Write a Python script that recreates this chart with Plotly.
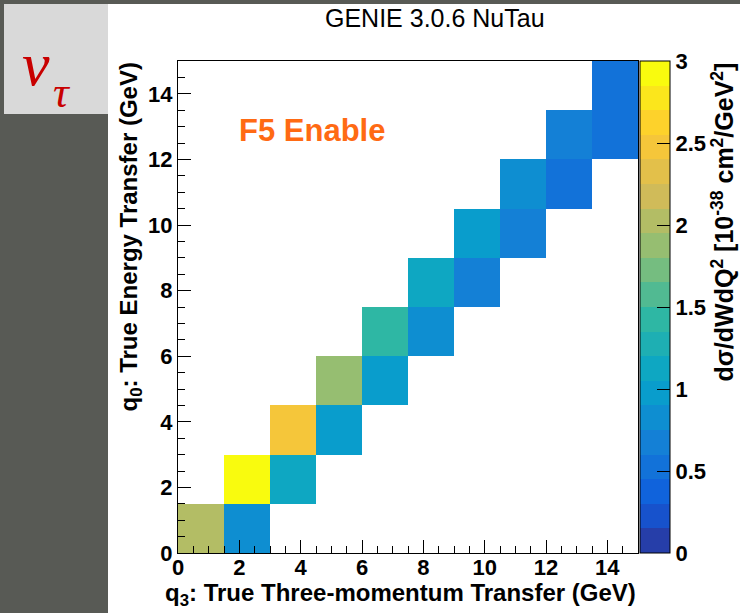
import plotly.graph_objects as go

# ---------------- data ----------------
q3_centers = [0.75, 2.25, 3.75, 5.25, 6.75, 8.25, 9.75, 11.25, 12.75, 14.25]
q0_centers = [0.75, 2.25, 3.75, 5.25, 6.75, 8.25, 9.75, 11.25, 12.75, 14.25]
# cross-section in cells where q3 bin == q0 bin (diagonal)
diag_xsec = [2.02, 2.95, 2.48, 1.88, 1.42, 1.12, 0.96, 0.83, 0.68, 0.57]
# cross-section in cells where q3 bin == q0 bin + 1
offdiag_xsec = [0.82, 1.12, 0.97, 0.98, 0.82, 0.70, 0.70, 0.55, 0.57]
x_tickvals = [0, 2, 4, 6, 8, 10, 12, 14]
y_tickvals = [0, 2, 4, 6, 8, 10, 12, 14]
cbar_tickvals = [0, 0.5, 1, 1.5, 2, 2.5, 3]
cbar_ticktext = ["0", "0.5", "1", "1.5", "2", "2.5", "3"]

# ---------------- geometry ----------------
W, H = 740, 613
L, R, T, B = 178, 638, 61, 553


def px(x):
    return (x - L) / (R - L)


def py(y):
    return (B - y) / (B - T)


# ROOT kBird palette, 20 contours
stops = [0.0, 0.125, 0.25, 0.375, 0.5, 0.625, 0.75, 0.875, 1.0]
red = [0.2082, 0.0592, 0.0780, 0.0232, 0.1802, 0.5301, 0.8186, 0.9956, 0.9764]
green = [0.1664, 0.3599, 0.5041, 0.6419, 0.7178, 0.7492, 0.7328, 0.7862, 0.9832]
blue = [0.5293, 0.8684, 0.8385, 0.7914, 0.6425, 0.4662, 0.3499, 0.1968, 0.0539]


def bird(t):
    t = min(max(t, 0.0), 1.0)
    for i in range(len(stops) - 1):
        if stops[i] <= t <= stops[i + 1]:
            f = (t - stops[i]) / (stops[i + 1] - stops[i])
            r = red[i] + f * (red[i + 1] - red[i])
            g = green[i] + f * (green[i + 1] - green[i])
            b = blue[i] + f * (blue[i + 1] - blue[i])
            return "rgb(%d,%d,%d)" % (round(r * 255), round(g * 255), round(b * 255))
    return "rgb(0,0,0)"


ncont = 20
colorscale = []
for k in range(ncont):
    c = bird((k + 0.99) / ncont)
    colorscale.append([k / ncont, c])
    colorscale.append([(k + 1) / ncont, c])

nx, ny = len(q3_centers), len(q0_centers)
z = [[None] * nx for _ in range(ny)]
for i, v in enumerate(diag_xsec):
    z[i][i] = v
for i, v in enumerate(offdiag_xsec):
    z[i][i + 1] = v

lab_font = dict(family="Liberation Sans", size=22, color="black", weight="bold")
title_font = dict(family="Liberation Sans", size=24, color="black", weight="bold")

fig = go.Figure()
fig.add_trace(go.Heatmap(
    x=q3_centers, y=q0_centers, z=z,
    zmin=0, zmax=3, colorscale=colorscale, zsmooth=False,
    hoverongaps=False,
    colorbar=dict(
        x=px(640), xanchor="left", xpad=0, ypad=0,
        y=0.5, yanchor="middle", len=1, lenmode="fraction",
        thickness=30, thicknessmode="pixels",
        outlinewidth=1, outlinecolor="black",
        ticks="inside", ticklen=13, tickcolor="black", tickwidth=1,
        tickvals=cbar_tickvals, ticktext=cbar_ticktext,
        tickfont=lab_font,
    ),
))

axis_common = dict(
    range=[0, 15], showgrid=False, zeroline=False,
    showline=True, mirror=True, linecolor="black", linewidth=1,
    ticks="inside", ticklen=13, tickcolor="black", tickwidth=1,
    tickfont=lab_font,
    minor=dict(ticks="inside", dtick=0.5, tick0=0, ticklen=7, tickcolor="black", tickwidth=1),
)

fig.update_xaxes(tickvals=x_tickvals, ticklabelstandoff=-5, **axis_common)
fig.update_yaxes(tickvals=y_tickvals, **axis_common)

shapes = [
    dict(type="rect", xref="paper", yref="paper", layer="below",
         x0=px(108), x1=px(740), y0=py(613), y1=py(4),
         fillcolor="white", line=dict(width=0)),
    dict(type="rect", xref="paper", yref="paper", layer="below",
         x0=px(4), x1=px(108), y0=py(114), y1=py(4),
         fillcolor="#d9d9d9", line=dict(width=0)),
]

annotations = [
    dict(text="ν", x=px(36), y=py(64), xref="paper", yref="paper",
         showarrow=False, xanchor="center", yanchor="middle",
         font=dict(family="Liberation Serif", size=62, color="#c80000", style="italic")),
    dict(text="τ", x=px(62), y=py(92), xref="paper", yref="paper",
         showarrow=False, xanchor="center", yanchor="middle",
         font=dict(family="Liberation Serif", size=44, color="#c80000", style="italic")),
    dict(text="GENIE 3.0.6 NuTau", x=px(435), y=py(18), xref="paper", yref="paper",
         showarrow=False, xanchor="center", yanchor="middle",
         font=dict(family="Liberation Sans", size=25, color="black")),
    dict(text="F5 Enable", x=px(237), y=py(130), xref="paper", yref="paper",
         showarrow=False, xanchor="left", yanchor="middle",
         font=dict(family="Liberation Sans", size=31, color="#ff6a13", weight="bold")),
    dict(text="q<sub>3</sub>: True Three-momentum Transfer (GeV)", x=1, y=py(594),
         xref="paper", yref="paper", showarrow=False, xanchor="right", yanchor="middle",
         font=title_font),
    dict(text="q<sub>0</sub>: True Energy Transfer (GeV)", x=px(130), y=1,
         xref="paper", yref="paper", showarrow=False, xanchor="center", yanchor="top",
         textangle=-90, font=title_font),
    dict(text="dσ/dWdQ<sup>2</sup> [10<sup>-38</sup> cm<sup>2</sup>/GeV<sup>2</sup>]",
         x=px(722), y=1, xref="paper", yref="paper", showarrow=False,
         xanchor="center", yanchor="top", textangle=-90,
         font=dict(family="Liberation Sans", size=25, color="black", weight="bold")),
]

fig.update_layout(
    width=W, height=H,
    margin=dict(l=L, r=W - R, t=T, b=H - B, pad=0),
    paper_bgcolor="#585a55", plot_bgcolor="white",
    shapes=shapes, annotations=annotations,
    showlegend=False,
)

fig.write_html("out.html")
